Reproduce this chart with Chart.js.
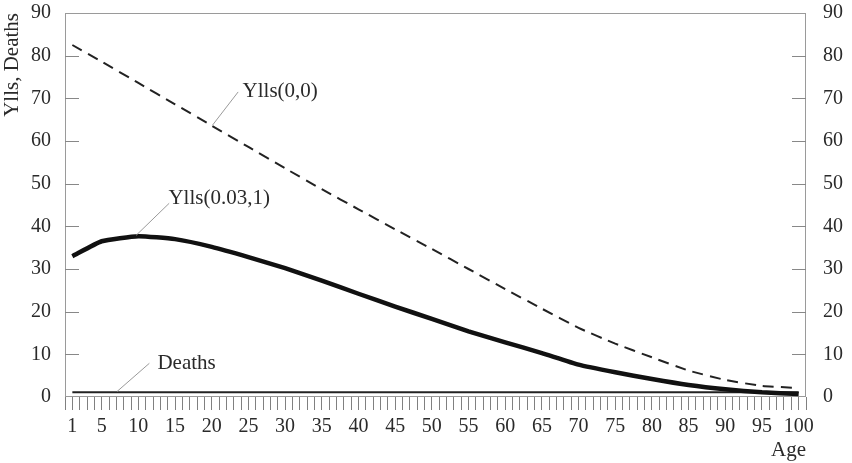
<!DOCTYPE html>
<html>
<head>
<meta charset="utf-8">
<script src="https://cdn.jsdelivr.net/npm/chart.js@4"></script>
<style>
    html, body { margin: 0; padding: 0; background: #fff; }
    #wrap { width: 852px; height: 463px; }
</style>
</head>
<body>
<div id="wrap"><canvas id="chart" width="852" height="463"></canvas></div>
<script>
// values
const ages = [1, 5, 10, 15, 20, 25, 30, 35, 40, 45, 50, 55, 60, 65, 70, 75, 80, 85, 90, 95, 100];
const yllsNoDiscount = [82.5, 78.6, 73.6, 68.6, 63.6, 58.6, 53.6, 48.7, 44.0, 39.3, 34.7, 30.0, 25.3, 20.7, 16.2, 12.5, 9.3, 6.2, 4.0, 2.6, 2.1];
const yllsDiscounted = [33.0, 36.5, 37.7, 37.0, 35.2, 32.8, 30.2, 27.3, 24.2, 21.2, 18.3, 15.4, 12.8, 10.3, 7.6, 5.8, 4.2, 2.8, 1.8, 1.1, 0.7];
const deaths = [1.1, 1.1, 1.1, 1.1, 1.1, 1.1, 1.1, 1.1, 1.1, 1.1, 1.1, 1.1, 1.1, 1.1, 1.1, 1.1, 1.1, 1.1, 1.1, 1.1, 1.1];
const labeledAges = [1, 5, 10, 15, 20, 25, 30, 35, 40, 45, 50, 55, 60, 65, 70, 75, 80, 85, 90, 95, 100];

// callouts: text, where the text starts, leader line from/to (age, value)
const calloutText = ['Ylls(0,0)', 'Ylls(0.03,1)', 'Deaths'];
const calloutAt = [[24.2, 71.5], [14.1, 46.6], [12.6, 7.9]];
const leaderFrom = [[23.6, 71.5], [14.2, 45.4], [11.5, 7.9]];
const leaderTo = [[20.1, 63.7], [9.7, 37.9], [7.1, 1.3]];

const serif = "'Liberation Serif', 'DejaVu Serif', serif";
const ink = '#2a2a2a';

function toPoints(ys) {
    return ages.map((a, i) => ({ x: a, y: ys[i] }));
}

// frame, inward y ticks, callouts
const decorations = {
    id: 'decorations',
    beforeDatasetsDraw(chart) {
        const { ctx, chartArea: a, scales } = chart;
        ctx.save();
        ctx.strokeStyle = '#9a9a9a';
        ctx.lineWidth = 1;
        ctx.strokeRect(a.left + 0.5, a.top + 0.5, a.right - a.left - 1, a.bottom - a.top - 1);
        ctx.strokeStyle = '#888';
        scales.y.ticks.forEach(t => {
            if (t.value <= 0 || t.value >= 90) return;
            const py = Math.round(scales.y.getPixelForValue(t.value)) + 0.5;
            ctx.beginPath();
            ctx.moveTo(a.left, py);
            ctx.lineTo(a.left + 14, py);
            ctx.moveTo(a.right, py);
            ctx.lineTo(a.right - 14, py);
            ctx.stroke();
        });
        ctx.restore();
    },
    afterDatasetsDraw(chart) {
        const { ctx, scales: { x, y } } = chart;
        ctx.save();
        ctx.strokeStyle = '#9a9a9a';
        ctx.lineWidth = 1;
        ctx.fillStyle = ink;
        ctx.font = '21px ' + serif;
        ctx.textBaseline = 'middle';
        calloutText.forEach((txt, i) => {
            ctx.beginPath();
            ctx.moveTo(x.getPixelForValue(leaderFrom[i][0]), y.getPixelForValue(leaderFrom[i][1]));
            ctx.lineTo(x.getPixelForValue(leaderTo[i][0]), y.getPixelForValue(leaderTo[i][1]));
            ctx.stroke();
            ctx.fillText(txt, x.getPixelForValue(calloutAt[i][0]), y.getPixelForValue(calloutAt[i][1]));
        });
        ctx.restore();
    }
};

// y axes: fixed width, no extra room for the top label
function fitY(width) {
    return s => {
        s.width = width;
        s.paddingTop = 0;
        s.paddingBottom = 0;
    };
}

const ctx = document.getElementById('chart').getContext('2d');
new Chart(ctx, {
    type: 'line',
    data: {
        datasets: [
            {
                label: 'Ylls(0,0)',
                data: toPoints(yllsNoDiscount),
                borderColor: '#222',
                borderWidth: 2,
                borderDash: [11, 7],
                tension: 0.15
            },
            {
                label: 'Ylls(0.03,1)',
                data: toPoints(yllsDiscounted),
                borderColor: '#111',
                borderWidth: 4.5,
                tension: 0.15
            },
            {
                label: 'Deaths',
                data: toPoints(deaths),
                borderColor: '#222',
                borderWidth: 2
            }
        ]
    },
    options: {
        responsive: false,
        animation: false,
        events: [],
        elements: { point: { radius: 0 } },
        layout: { padding: { top: 13, left: 0, right: 0, bottom: 0 } },
        plugins: { legend: { display: false }, tooltip: { enabled: false } },
        scales: {
            x: {
                type: 'linear',
                position: 'bottom',
                min: 0,
                max: 101,
                afterFit: s => {
                    s.height = 66;
                    s.paddingLeft = 0;
                    s.paddingRight = 0;
                },
                afterBuildTicks: s => {
                    const t = [];
                    for (let v = 0; v <= 101; v++) t.push({ value: v });
                    s.ticks = t;
                },
                ticks: {
                    autoSkip: false,
                    maxRotation: 0,
                    minRotation: 0,
                    padding: 5,
                    color: ink,
                    font: { family: serif, size: 20 },
                    callback: v => labeledAges.includes(v) ? String(v) : ''
                },
                grid: { drawOnChartArea: false, drawTicks: true, tickLength: 13, color: '#808080' },
                border: { display: false },
                title: {
                    display: true,
                    text: 'Age',
                    align: 'end',
                    color: ink,
                    padding: { top: 0, bottom: 0 },
                    font: { family: serif, size: 21 }
                }
            },
            y: {
                position: 'left',
                min: 0,
                max: 90,
                afterFit: fitY(65),
                ticks: { stepSize: 10, padding: 14, color: ink, font: { family: serif, size: 20 } },
                grid: { drawOnChartArea: false, drawTicks: false },
                border: { display: false },
                title: {
                    display: true,
                    text: 'Ylls, Deaths',
                    align: 'end',
                    color: ink,
                    padding: { top: 0, bottom: 0 },
                    font: { family: serif, size: 21 }
                }
            },
            y2: {
                position: 'right',
                min: 0,
                max: 90,
                afterFit: fitY(46),
                ticks: { stepSize: 10, padding: 17, color: ink, font: { family: serif, size: 20 } },
                grid: { drawOnChartArea: false, drawTicks: false },
                border: { display: false }
            }
        }
    },
    plugins: [decorations]
});
</script>
</body>
</html>
